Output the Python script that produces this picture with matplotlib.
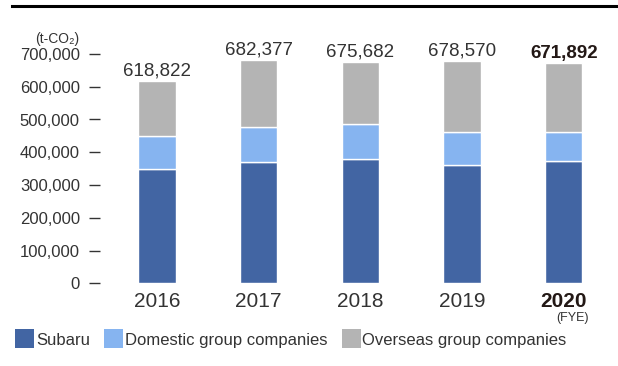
import matplotlib.pyplot as plt
from matplotlib.patches import Rectangle
from matplotlib.lines import Line2D

plt.rcParams['font.family'] = ['Liberation Sans', 'DejaVu Sans']

# CO2 emissions by fiscal year (t-CO2)
years = ['2016', '2017', '2018', '2019', '2020']
totals = [618822, 682377, 675682, 678570, 671892]
subaru = [349000, 370000, 378000, 360000, 372000]
domestic = [101000, 107000, 108000, 102000, 90000]
overseas = [t - s - d for t, s, d in zip(totals, subaru, domestic)]

series_names = ['Subaru', 'Domestic group companies', 'Overseas group companies']
colors = ['#4265a3', '#86b4f0', '#b4b4b4']
TEXT = '#333333'
DARK = '#231815'

W, H = 618, 366
fig = plt.figure(figsize=(W / 100, H / 100), dpi=100)
fig.patch.set_facecolor('white')

# axes placed in pixel terms
ax = fig.add_axes([100 / W, 1 - 283.3 / H, (W - 100) / W, (283.3 - 37.6) / H])

x = range(len(years))
bw = 0.367
ax.bar(x, subaru, bw, color=colors[0], edgecolor='white', linewidth=1)
ax.bar(x, domestic, bw, bottom=subaru, color=colors[1], edgecolor='white', linewidth=1)
bottom2 = [s + d for s, d in zip(subaru, domestic)]
ax.bar(x, overseas, bw, bottom=bottom2, color=colors[2], edgecolor='white', linewidth=1)

# totals above the bars
for i, t in enumerate(totals):
    last = i == len(totals) - 1
    ax.annotate(f'{t:,}', (i, t), xytext=(0, 1), textcoords='offset points',
                ha='center', va='bottom', fontsize=13.5,
                fontweight='bold' if last else 'normal',
                color=DARK if last else TEXT)

ax.set_xlim(-0.56, 4.533)
ax.set_ylim(0, 750000)
ax.set_yticks(range(0, 700001, 100000))
ax.set_yticklabels([f'{v:,}' for v in range(0, 700001, 100000)])
ax.set_xticks(list(x))
ax.set_xticklabels(years)
ax.tick_params(axis='y', length=8, width=1.0, color=TEXT, pad=6.5,
               labelsize=12, labelcolor=TEXT)
ax.tick_params(axis='x', length=0, pad=6, labelsize=15, labelcolor=TEXT)
lbl = ax.get_xticklabels()[-1]
lbl.set_fontweight('bold')
lbl.set_color(DARK)
for s in ax.spines.values():
    s.set_visible(False)

fig.text(589 / W, 1 - 321 / H, '(FYE)', ha='right', va='baseline', fontsize=9, color=TEXT)
fig.text(57 / W, 1 - 43 / H, '(t-CO₂)', ha='center', va='baseline', fontsize=10, color=TEXT)

# rule across the top
fig.add_artist(Line2D([12 / W, 1], [1 - 5.7 / H] * 2, lw=2.2, color='black',
                      transform=fig.transFigure))

# legend drawn item by item
renderer = fig.canvas.get_renderer()
px = 15
for name, c in zip(series_names, colors):
    fig.add_artist(Rectangle((px / W, 1 - 348 / H), 19 / W, 19 / H,
                             transform=fig.transFigure, facecolor=c, edgecolor='none'))
    t = fig.text((px + 21) / W, 1 - 345 / H, name, ha='left', va='baseline',
                 fontsize=12, color=TEXT)
    px = t.get_window_extent(renderer).x1 + 14

fig.savefig('out.png', dpi=100)
